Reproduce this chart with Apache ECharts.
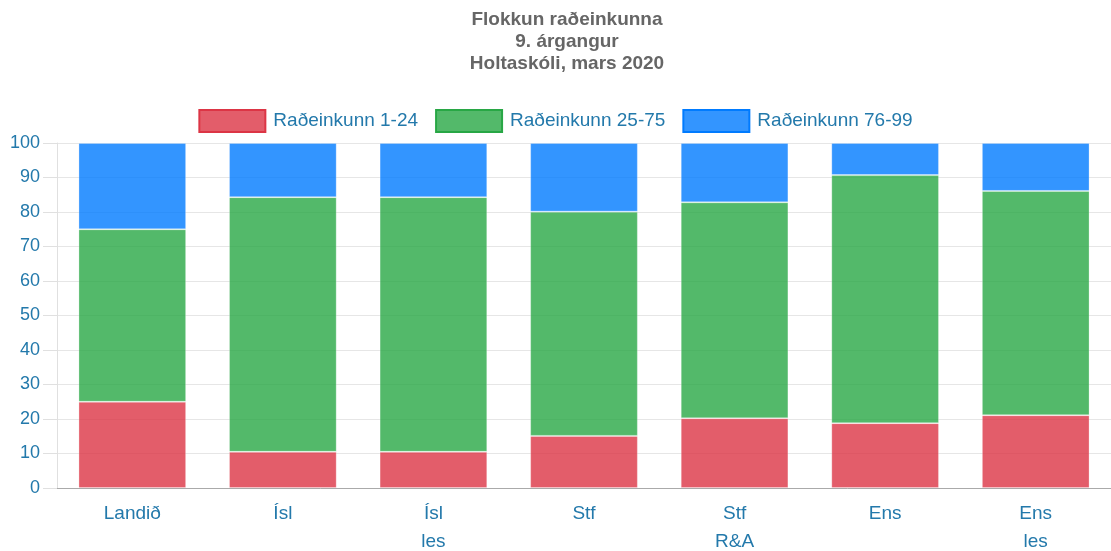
<!DOCTYPE html>
<html>
<head>
<meta charset="utf-8">
<script src="https://cdn.jsdelivr.net/npm/echarts@6/dist/echarts.min.js"></script>
<style>html,body{margin:0;padding:0;background:#fff;overflow:hidden}#c{width:1111px;height:551px}</style>
</head>
<body>
<div id="c"></div>
<script>
const categories = ['Landið', 'Ísl', 'Ísl\nles', 'Stf', 'Stf\nR&A', 'Ens', 'Ens\nles'];
const seriesNames = ['Raðeinkunn 1-24', 'Raðeinkunn 25-75', 'Raðeinkunn 76-99'];
const low = [25, 10.5, 10.5, 15.1, 20.2, 18.8, 21.1];
const mid = [50, 73.8, 73.8, 65.0, 62.6, 71.9, 65.0];
const high = [25, 15.7, 15.7, 19.9, 17.2, 9.3, 13.9];
const yTicks = [0, 10, 20, 30, 40, 50, 60, 70, 80, 90, 100];
const titleLines = ['Flokkun raðeinkunna', '9. árgangur', 'Holtaskóli, mars 2020'];

const fills = ['rgba(220,53,69,0.8)', 'rgba(40,167,69,0.8)', 'rgba(0,123,255,0.8)'];
const borders = ['rgba(220,53,69,1)', 'rgba(40,167,69,1)', 'rgba(0,123,255,1)'];
const labelColor = '#2379ab';
const font = '"Liberation Sans", Arial, Helvetica, sans-serif';

const chart = echarts.init(document.getElementById('c'));
const values = [low, mid, high];
chart.setOption({
  animation: false,
  title: {
    text: titleLines.join('\n'),
    left: 562,
    textAlign: 'center',
    top: 4,
    textStyle: { fontFamily: font, fontSize: 19, fontWeight: 'bold', color: '#666', lineHeight: 22 }
  },
  legend: {
    top: 104,
    left: 'center',
    padding: [5, 5, 5, 10],
    icon: 'rect',
    itemWidth: 66,
    itemHeight: 22,
    itemGap: 17,
    textStyle: { fontFamily: font, fontSize: 19, color: labelColor, padding: [0, 0, 0, 3] },
    data: seriesNames.map((n, i) => ({ name: n, itemStyle: { color: fills[i], borderColor: borders[i], borderWidth: 2 } }))
  },
  grid: { left: 57, right: 0, top: 143, bottom: 63, containLabel: false, outerBoundsMode: 'none' },
  xAxis: {
    type: 'category',
    data: categories,
    axisLine: { lineStyle: { color: '#aaa', width: 1 } },
    axisTick: { show: false },
    axisLabel: { fontFamily: font, fontSize: 19, color: labelColor, lineHeight: 28, margin: 12, verticalAlign: 'top' }
  },
  yAxis: {
    type: 'value',
    min: yTicks[0],
    max: yTicks[yTicks.length - 1],
    interval: yTicks[1] - yTicks[0],
    axisLine: { show: true, lineStyle: { color: '#e0e0e0' } },
    axisTick: { show: true, length: 14, lineStyle: { color: '#e0e0e0' } },
    splitLine: { lineStyle: { color: '#e6e6e6' } },
    axisLabel: { fontFamily: font, fontSize: 18, color: labelColor, margin: 17 }
  },
  series: seriesNames.map((n, i) => ({
    name: n,
    type: 'bar',
    stack: 'total',
    barWidth: '71.5%',
    data: values[i],
    itemStyle: { color: fills[i], borderColor: 'rgba(255,255,255,0.25)', borderWidth: 1 }
  }))
});
</script>
</body>
</html>
